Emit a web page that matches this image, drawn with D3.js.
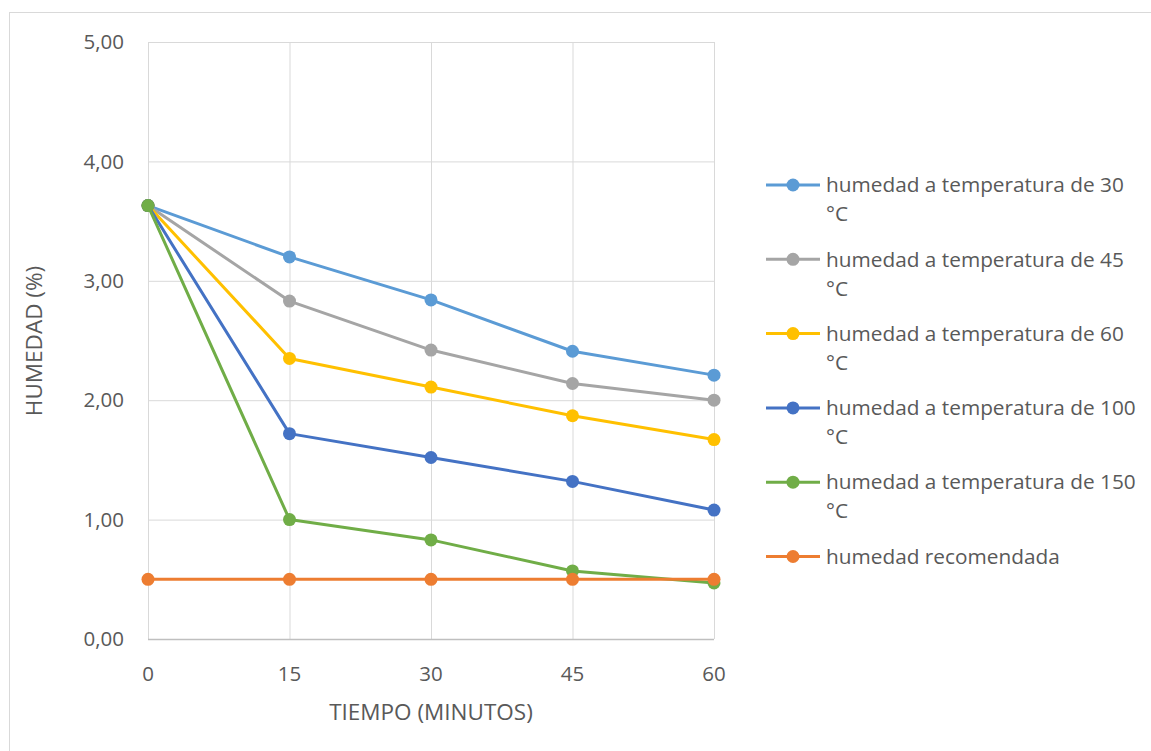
<!DOCTYPE html>
<html lang="es">
<head>
  <meta charset="UTF-8" />
  <title>Humedad vs tiempo</title>
  <style>
    html, body { margin: 0; padding: 0; background: #fff; }
    svg { display: block; font-family: "Open Sans", Lato, sans-serif; }
    .grid line { stroke: #d9d9d9; stroke-width: 1px; }
    .tick-label { fill: #595959; font-size: 20.5px; }
    .axis-title { fill: #595959; font-size: 22.5px; }
    .legend-text { fill: #595959; font-size: 20.8px; }
  </style>
  <script src="https://d3js.org/d3.v7.min.js"></script>
</head>
<body>
  <svg id="chart" width="1151" height="751"></svg>
  <script>
    // data
    const minutes = [0, 15, 30, 45, 60];
    const h30  = [3.63, 3.20, 2.84, 2.41, 2.21];
    const h45  = [3.63, 2.83, 2.42, 2.14, 2.00];
    const h60  = [3.63, 2.35, 2.11, 1.87, 1.67];
    const h100 = [3.63, 1.72, 1.52, 1.32, 1.08];
    const h150 = [3.63, 1.00, 0.83, 0.57, 0.47];
    const hRec = [0.50, 0.50, 0.50, 0.50, 0.50];
    const yTicks = [0, 1, 2, 3, 4, 5];

    const series = [
      { name: "humedad a temperatura de 30", unit: "°C", values: h30,  color: "#5b9bd5" },
      { name: "humedad a temperatura de 45", unit: "°C", values: h45,  color: "#a5a5a5" },
      { name: "humedad a temperatura de 60", unit: "°C", values: h60,  color: "#ffc000" },
      { name: "humedad a temperatura de 100", unit: "°C", values: h100, color: "#4472c4" },
      { name: "humedad a temperatura de 150", unit: "°C", values: h150, color: "#70ad47" },
      { name: "humedad recomendada", unit: null, values: hRec, color: "#ed7d31" }
    ];

    const svg = d3.select("#chart");

    // chart border
    svg.append("rect")
      .attr("x", 9.5).attr("y", 12.5)
      .attr("width", 1160).attr("height", 760)
      .attr("fill", "none").attr("stroke", "#d9d9d9");

    const x = d3.scaleLinear().domain([0, 60]).range([148, 714]);
    const y = d3.scaleLinear().domain([0, 5]).range([639, 42]);

    const grid = svg.append("g").attr("class", "grid");
    grid.selectAll(".h").data(yTicks.slice(1)).join("line")
      .attr("x1", x(0)).attr("x2", x(60))
      .attr("y1", d => y(d) + 0.5).attr("y2", d => y(d) + 0.5);
    grid.selectAll(".v").data(minutes).join("line")
      .attr("x1", d => x(d) + 0.5).attr("x2", d => x(d) + 0.5)
      .attr("y1", y(5)).attr("y2", y(0));

    // x axis line
    svg.append("line")
      .attr("x1", x(0)).attr("x2", x(60))
      .attr("y1", y(0) + 0.5).attr("y2", y(0) + 0.5)
      .attr("stroke", "#bfbfbf").attr("stroke-width", 1.5);

    const fmt = d => d3.format(".2f")(d).replace(".", ",");

    svg.selectAll(".ylab").data(yTicks).join("text")
      .attr("class", "tick-label")
      .attr("x", 124).attr("y", d => y(d))
      .attr("dy", "0.35em")
      .attr("text-anchor", "end")
      .text(fmt);

    svg.selectAll(".xlab").data(minutes).join("text")
      .attr("class", "tick-label")
      .attr("x", d => x(d)).attr("y", 674)
      .attr("dy", "0.35em")
      .attr("text-anchor", "middle")
      .text(d => d);

    svg.append("text")
      .attr("class", "axis-title")
      .attr("x", 431).attr("y", 712)
      .attr("dy", "0.35em")
      .attr("text-anchor", "middle")
      .text("TIEMPO (MINUTOS)");

    svg.append("text")
      .attr("class", "axis-title")
      .attr("transform", "translate(34,341) rotate(-90)")
      .attr("dy", "0.35em")
      .attr("text-anchor", "middle")
      .text("HUMEDAD (%)");

    const line = d3.line()
      .x((d, i) => x(minutes[i]))
      .y(d => y(d));

    const sg = svg.selectAll(".series").data(series).join("g");
    sg.append("path")
      .attr("d", d => line(d.values))
      .attr("fill", "none")
      .attr("stroke", d => d.color)
      .attr("stroke-width", 3)
      .attr("stroke-linejoin", "round");
    sg.selectAll("circle").data(d => d.values.map((v, i) => ({ v, i, c: d.color }))).join("circle")
      .attr("cx", d => x(minutes[d.i]))
      .attr("cy", d => y(d.v))
      .attr("r", 6.5)
      .attr("fill", d => d.c);

    // legend
    const leg = svg.selectAll(".leg").data(series).join("g")
      .attr("transform", (d, i) => `translate(766,${185 + i * 74.3})`);
    leg.append("line")
      .attr("x1", 0).attr("x2", 54)
      .attr("stroke", d => d.color).attr("stroke-width", 3);
    leg.append("circle")
      .attr("cx", 27).attr("r", 6.5)
      .attr("fill", d => d.color);
    leg.append("text")
      .attr("class", "legend-text")
      .attr("x", 60).attr("dy", "0.35em")
      .text(d => d.name);
    leg.filter(d => d.unit).append("text")
      .attr("class", "legend-text")
      .attr("x", 60).attr("y", 29).attr("dy", "0.35em")
      .text(d => d.unit);
  </script>
</body>
</html>
